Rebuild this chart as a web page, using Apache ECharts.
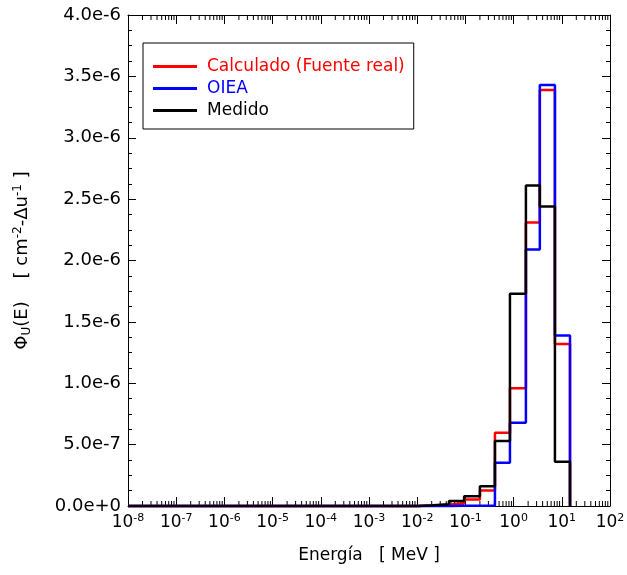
<!doctype html>
<html lang="es">
<head>
    <meta charset="UTF-8">
    <title>Espectro de neutrones</title>
    <style>
        html, body { margin: 0; padding: 0; background: #fff; }
        #chart { width: 627px; height: 575px; }
    </style>
    <script src="https://cdn.jsdelivr.net/npm/echarts@6/dist/echarts.min.js"></script>
</head>
<body>
<div id="chart"></div>
<script type="text/javascript">
    // bordes de los grupos de energia [MeV]
    var edges = [1e-8, 0.0104, 0.0213, 0.0457, 0.094, 0.2, 0.41, 0.84, 1.8, 3.5, 7.2, 14.8];
    // flujo por unidad de letargia en cada grupo
    var calculado = [0, 4e-9, 1.0e-8, 2.2e-8, 5.3e-8, 1.27e-7, 5.97e-7, 9.6e-7, 2.31e-6, 3.39e-6, 1.32e-6];
    var oiea      = [0, 0, 1e-9, 2e-9, 3e-9, 5e-9, 3.53e-7, 6.78e-7, 2.09e-6, 3.43e-6, 1.39e-6];
    var medido    = [0, 6e-9, 1.5e-8, 4.0e-8, 8.0e-8, 1.6e-7, 5.3e-7, 1.73e-6, 2.61e-6, 2.44e-6, 3.6e-7];
    var names = ['Calculado (Fuente real)', 'OIEA', 'Medido'];
    var colors = ['#ff0000', '#0000ff', '#000000'];
    var decades = [-8, -7, -6, -5, -4, -3, -2, -1, 0, 1, 2];
    var yMin = 0, yMax = 4e-6;

    // marcas menores del eje logaritmico (2..9 por decada)
    var minorTicks = [];
    for (var d = 0; d < decades.length - 1; d++) {
        for (var k = 2; k <= 9; k++) {
            minorTicks.push([k * Math.pow(10, decades[d]), 0]);
        }
    }

    // histograma en escalones
    function steps(vals) {
        var pts = [[edges[0], 0]];
        for (var i = 0; i < vals.length; i++) {
            pts.push([edges[i], vals[i]]);
            pts.push([edges[i + 1], vals[i]]);
        }
        pts.push([edges[edges.length - 1], 0]);
        return pts;
    }

    var font = 'DejaVu Sans';
    var expLabel = {
        b: { fontSize: 17, fontFamily: font, color: '#000' },
        s: { fontSize: 11, fontFamily: font, color: '#000', padding: [0, 0, 9, 0] }
    };

    var myChart = echarts.init(document.getElementById('chart'));
    var series = [];
    var all = [calculado, oiea, medido];
    for (var s = 0; s < 3; s++) {
        series.push({
            name: names[s],
            type: 'line',
            data: steps(all[s]),
            symbol: 'none',
            clip: false,
            color: colors[s],
            lineStyle: { width: 2.5, color: colors[s] },
            z: 3 + s,
            animation: false
        });
    }
    series.push({
        type: 'custom',
        silent: true,
        animation: false,
        data: minorTicks,
        encode: { x: 0, y: 1 },
        renderItem: function (params, api) {
            var v = api.value(0);
            var b = api.coord([v, yMin]);
            var t = api.coord([v, yMax]);
            return {
                type: 'group',
                children: [
                    { type: 'line', shape: { x1: b[0], y1: b[1], x2: b[0], y2: b[1] - 5 }, style: { stroke: '#000', lineWidth: 1 } },
                    { type: 'line', shape: { x1: t[0], y1: t[1], x2: t[0], y2: t[1] + 5 }, style: { stroke: '#000', lineWidth: 1 } }
                ]
            };
        },
        z: 1
    });

    var logAxis = function (pos, showLabel) {
        return {
            type: 'log',
            logBase: 10,
            position: pos,
            min: 1e-8,
            max: 100,
            interval: 1,
            axisLine: { show: true, onZero: false, lineStyle: { color: '#000', width: 1 } },
            axisTick: { show: true, inside: true, length: 9, lineStyle: { color: '#000' } },
            axisLabel: {
                show: showLabel,
                margin: 7,
                formatter: function (v) {
                    return '{b|10}{s|' + Math.round(Math.log10(v)) + '}';
                },
                rich: expLabel
            },
            splitLine: { show: false }
        };
    };
    var linAxis = function (pos, showLabel) {
        return {
            type: 'value',
            position: pos,
            min: yMin,
            max: yMax,
            interval: 5e-7,
            axisLine: { show: true, lineStyle: { color: '#000', width: 1 } },
            axisTick: { show: true, inside: true, length: 8, lineStyle: { color: '#000' } },
            minorTick: { show: true, splitNumber: 4, length: 4, lineStyle: { color: '#000' } },
            axisLabel: {
                show: showLabel,
                margin: 7,
                fontSize: 18,
                fontFamily: font,
                color: '#000',
                formatter: function (v) { return v.toExponential(1); }
            },
            splitLine: { show: false }
        };
    };

    var xb = logAxis('bottom', true);
    xb.name = 'Energía   [ MeV ]';
    xb.nameLocation = 'middle';
    xb.nameGap = 41;
    xb.nameTextStyle = { fontSize: 17, fontFamily: font, color: '#000' };
    var yl = linAxis('left', true);
    yl.name = '{n|Φ}{sub|U}{n|(E)    [ cm}{sup|-2}{n|-Δu}{sup|-1}{n| ]}';
    yl.nameLocation = 'middle';
    yl.nameRotate = 90;
    yl.nameGap = 95;
    yl.nameTextStyle = {
        rich: {
            n: { fontSize: 18, fontFamily: font, color: '#000' },
            sub: { fontSize: 12, fontFamily: font, color: '#000', padding: [9, 0, 0, 0] },
            sup: { fontSize: 12, fontFamily: font, color: '#000', padding: [0, 0, 9, 0] }
        }
    };

    myChart.setOption({
        backgroundColor: '#fff',
        animation: false,
        grid: { left: 128, right: 17, top: 15, bottom: 69, containLabel: false, outerBoundsMode: 'none' },
        legend: {
            orient: 'vertical',
            left: 143,
            top: 43,
            data: names.map(function (n, i) {
                return { name: n, icon: 'rect', textStyle: { color: colors[i] } };
            }),
            itemWidth: 44,
            itemHeight: 3,
            itemGap: 5,
            padding: [15, 9, 10, 10],
            borderColor: '#000',
            borderWidth: 1,
            textStyle: { fontSize: 17, fontFamily: font, padding: [0, 0, 0, 5] },
            selectedMode: false
        },
        xAxis: [xb, logAxis('top', false)],
        yAxis: [yl, linAxis('right', false)],
        series: series
    });
</script>
</body>
</html>
